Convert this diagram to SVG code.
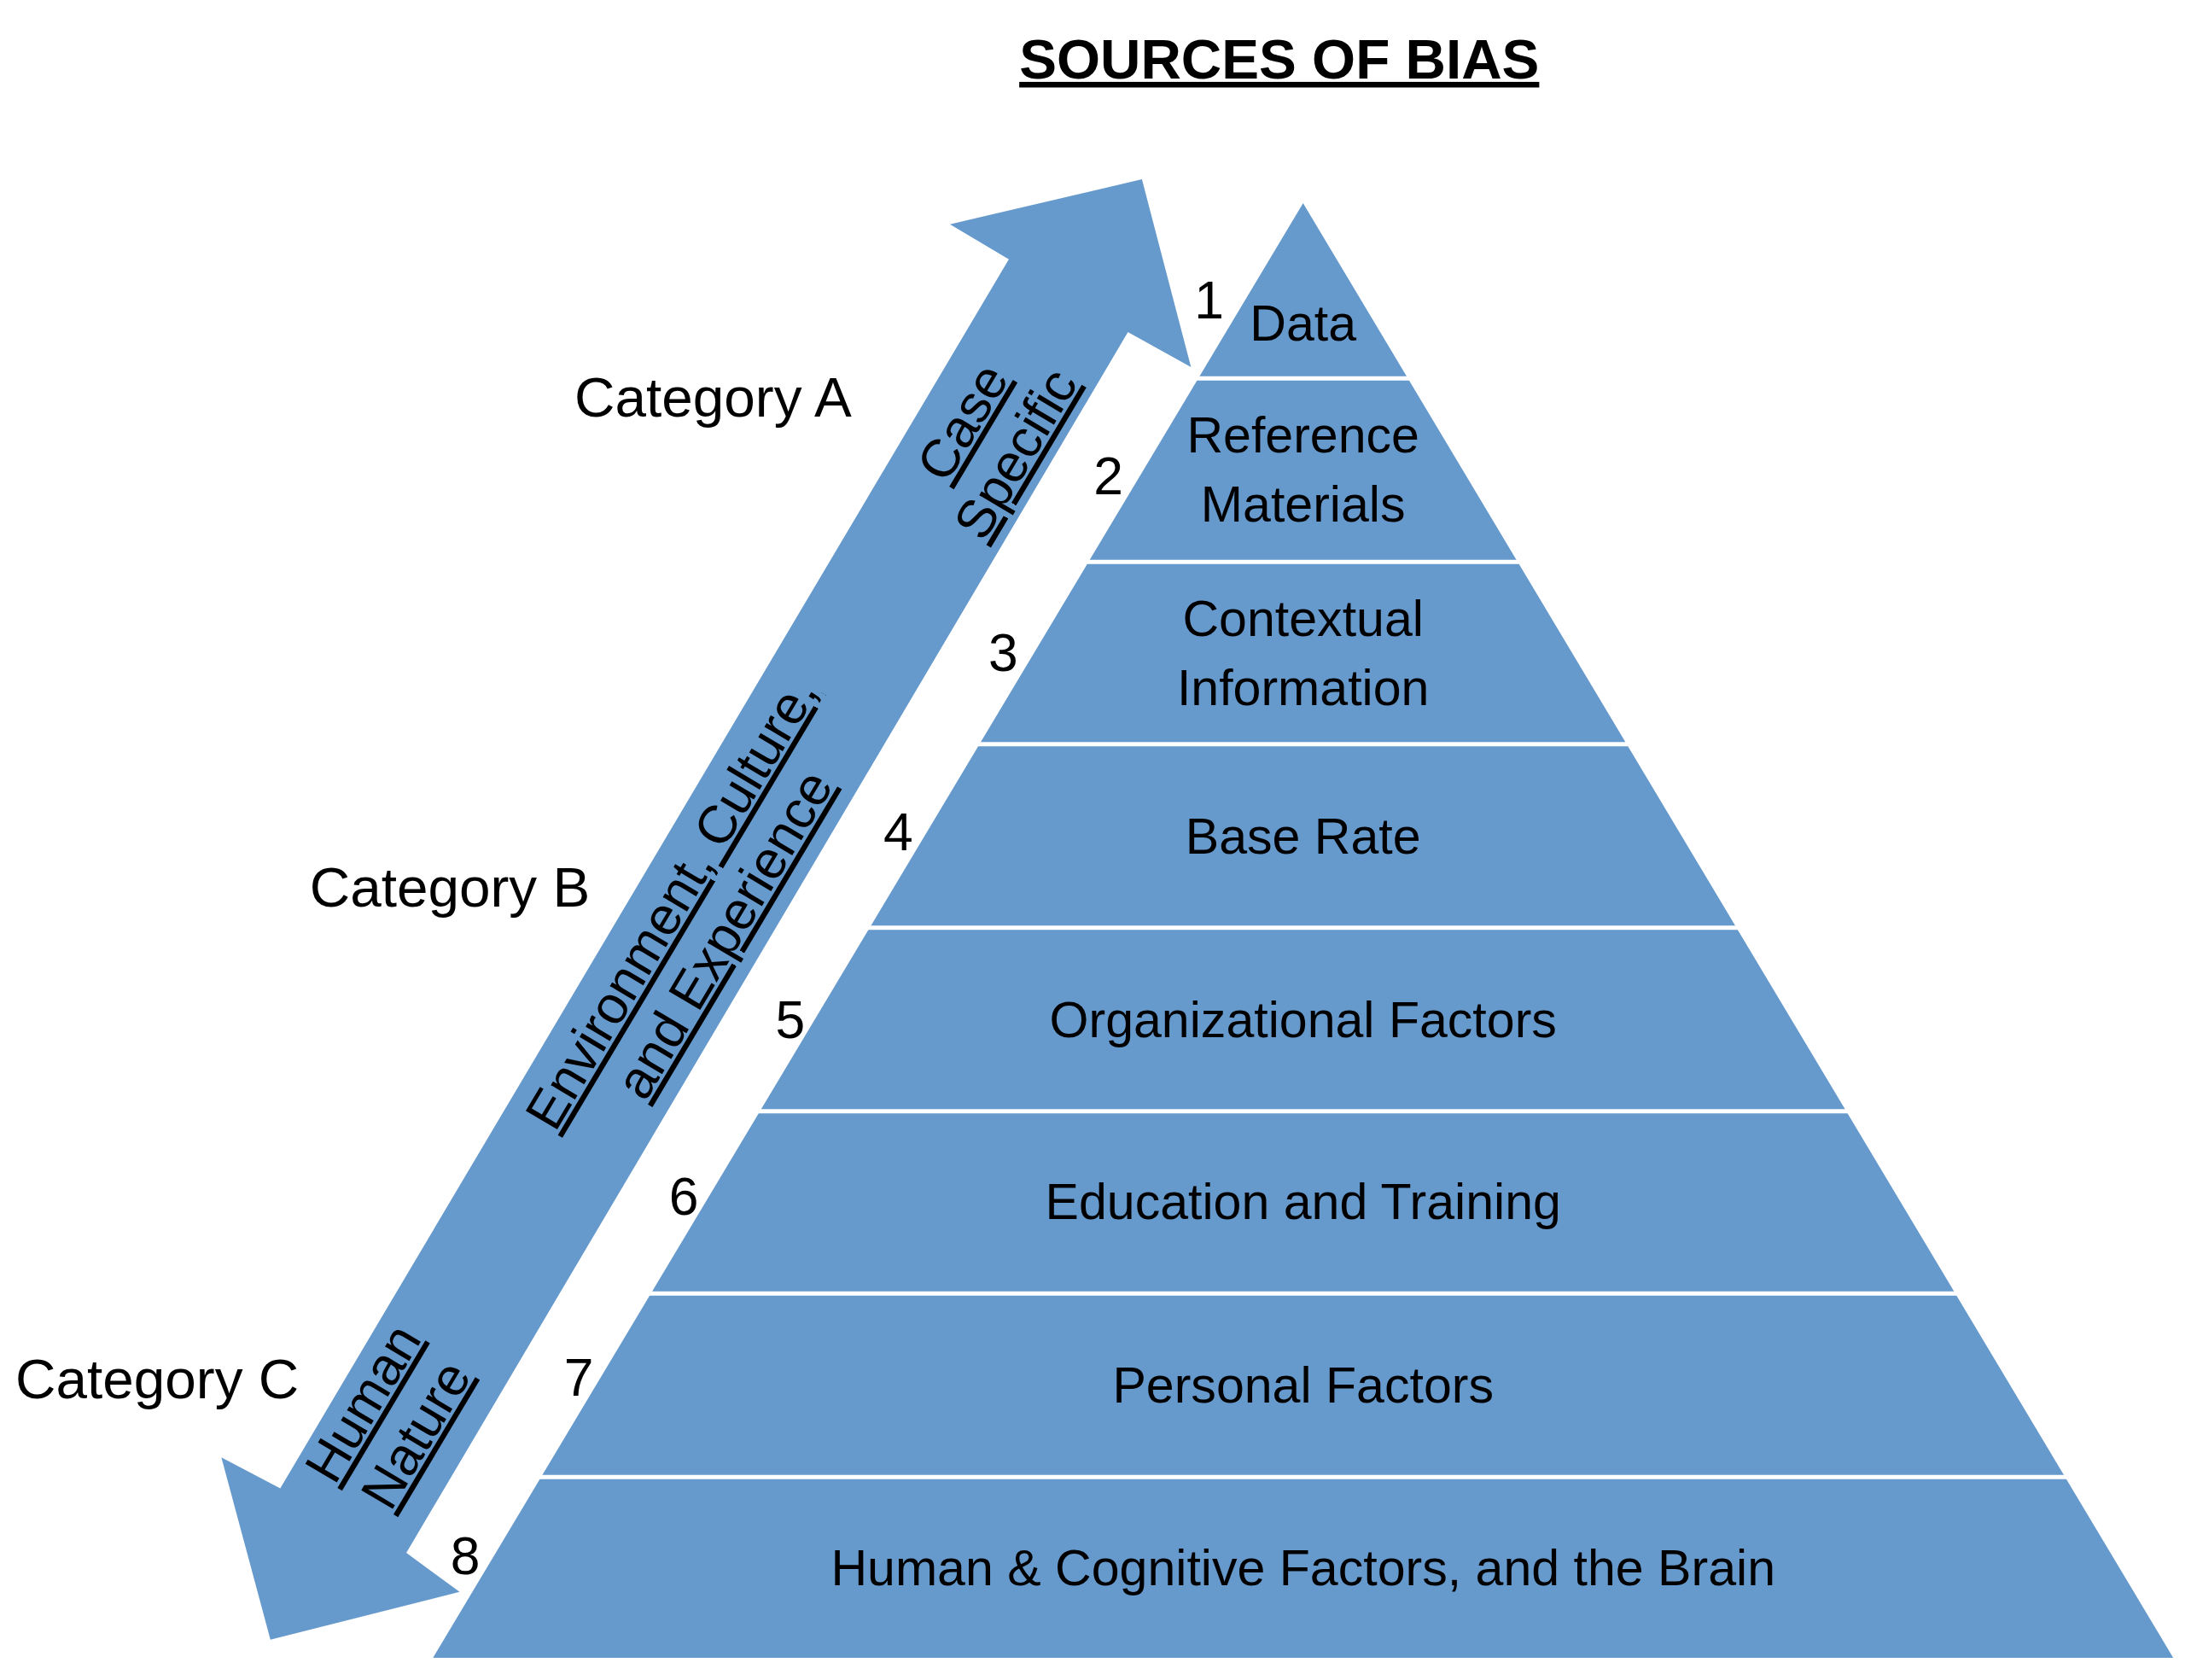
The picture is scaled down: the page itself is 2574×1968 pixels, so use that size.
<svg xmlns="http://www.w3.org/2000/svg" width="2574" height="1968" viewBox="0 0 2574 1968">
<style>
text{font-family:"Liberation Sans",Arial,sans-serif;fill:#000}
.l{font-size:36px;text-anchor:middle}
.n{font-size:38px;text-anchor:middle}
.c{font-size:40px}
.r{font-size:38px;text-anchor:middle;text-decoration:underline}
.sep{stroke:#fff;stroke-width:3}
</style>
<rect width="2574" height="1968" fill="#fff"/>
<g transform="scale(1.6416)">
<g id="title"><text x="913" y="56" style="font-size:40px;font-weight:bold;text-anchor:middle;text-decoration:underline">SOURCES OF BIAS</text></g>
<g id="pyramid">
<polygon points="930,145 1551,1183 309,1183" fill="#6699cc"/>
<line class="sep" x1="700" y1="270" x2="1160" y2="270"/>
<line class="sep" x1="700" y1="401" x2="1160" y2="401"/>
<line class="sep" x1="600" y1="531" x2="1260" y2="531"/>
<line class="sep" x1="500" y1="662" x2="1360" y2="662"/>
<line class="sep" x1="400" y1="793" x2="1460" y2="793"/>
<line class="sep" x1="300" y1="923" x2="1560" y2="923"/>
<line class="sep" x1="300" y1="1054" x2="1560" y2="1054"/>
</g>
<g id="levels">
<text class="l" x="930" y="243">Data</text>
<text class="l" x="930" y="323">Reference</text>
<text class="l" x="930" y="372">Materials</text>
<text class="l" x="930" y="454">Contextual</text>
<text class="l" x="930" y="503">Information</text>
<text class="l" x="930" y="609">Base Rate</text>
<text class="l" x="930" y="740">Organizational Factors</text>
<text class="l" x="930" y="870">Education and Training</text>
<text class="l" x="930" y="1001">Personal Factors</text>
<text class="l" x="930" y="1131">Human &amp; Cognitive Factors, and the Brain</text>
</g>
<g id="numbers">
<text class="n" x="863" y="227">1</text>
<text class="n" x="791" y="353">2</text>
<text class="n" x="716" y="479">3</text>
<text class="n" x="641" y="607">4</text>
<text class="n" x="564" y="741">5</text>
<text class="n" x="488" y="867">6</text>
<text class="n" x="413" y="996">7</text>
<text class="n" x="332" y="1123">8</text>
</g>
<g id="connectors">
<polygon points="815,128 850,262 805,237 290,1108 328,1136 193,1170 158,1040 200,1062 720,185 678,160" fill="#6699cc"/>
</g>
<g id="arrow-labels">
<g transform="translate(705,312) rotate(-59.2)"><text class="r" x="0" y="-8">Case</text><text class="r" x="0" y="36">Specific</text></g>
<g transform="translate(497,655) rotate(-59.2)"><text class="r" x="0" y="-8">Environment, Culture,</text><text class="r" x="0" y="36">and Experience</text></g>
<g transform="translate(277,1012) rotate(-59.2)"><text class="r" x="0" y="-8">Human</text><text class="r" x="0" y="36">Nature</text></g>
</g>
<g id="categories">
<text class="c" x="410" y="297">Category A</text>
<text class="c" x="221" y="647">Category B</text>
<text class="c" x="11" y="998">Category C</text>
</g>
</g>
</svg>
